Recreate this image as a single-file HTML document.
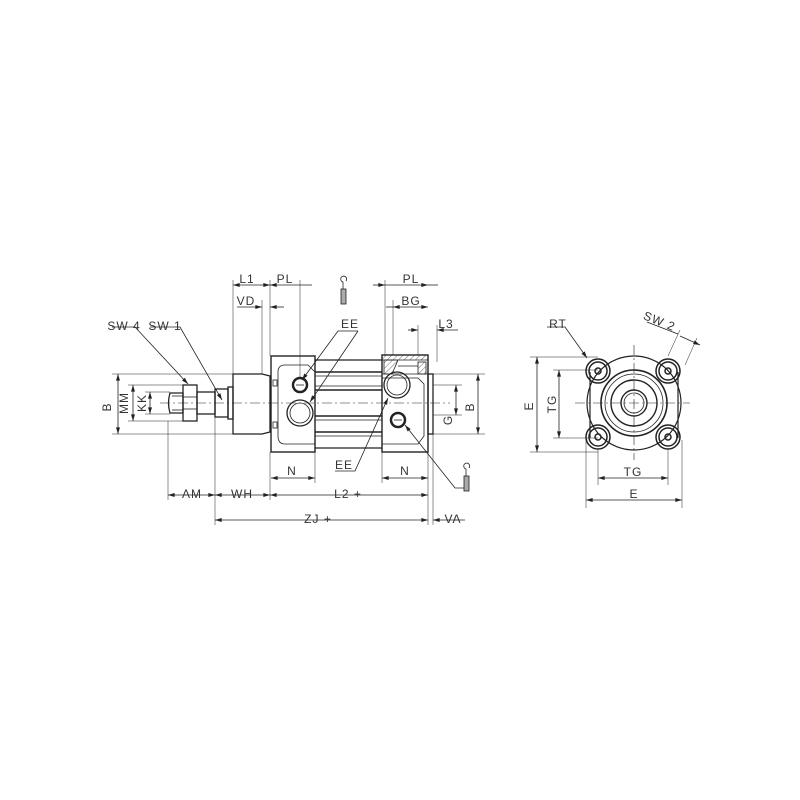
<!DOCTYPE html>
<html><head><style>html,body{margin:0;background:#fff}svg{display:block}text{font-family:"Liberation Sans",sans-serif;font-size:12px;fill:#333;letter-spacing:1px}</style></head>
<body>
<svg width="800" height="800" viewBox="0 0 800 800" xmlns="http://www.w3.org/2000/svg">
<defs><marker id="a" viewBox="0 0 10 6" refX="10" refY="3" markerWidth="9" markerHeight="5" orient="auto-start-reverse"><path d="M0,0L10,3L0,6z" fill="#222"/></marker>
<pattern id="h" width="4" height="4" patternUnits="userSpaceOnUse" patternTransform="rotate(45)"><line x1="0" y1="0" x2="0" y2="4" stroke="#444" stroke-width="0.8"/></pattern></defs>
<g stroke="#222" fill="none" stroke-width="0.8">
<line x1="160" y1="403" x2="450" y2="403" stroke-dasharray="10 3 2 3" stroke-width="0.6"/>
<line x1="575" y1="403" x2="690" y2="403" stroke-dasharray="10 3 2 3" stroke-width="0.6"/>
<line x1="634" y1="345" x2="634" y2="460" stroke-dasharray="10 3 2 3" stroke-width="0.6"/>
<path d="M170,393 L183,393 L183,413 L170,413 Q167,403 170,393z" stroke-width="1.3"/>
<line x1="172" y1="396" x2="183" y2="396"/><line x1="172" y1="410" x2="183" y2="410"/>
<rect x="183" y="385" width="14" height="36" stroke-width="1.3"/>
<line x1="183" y1="397" x2="197" y2="397"/><line x1="183" y1="409" x2="197" y2="409"/>
<rect x="197" y="392" width="18" height="22" stroke-width="1.3"/>
<rect x="215" y="389" width="13" height="28" stroke-width="1.3"/>
<rect x="228" y="387" width="5" height="32" stroke-width="1.3"/>
<path d="M233,374 L262,374 L270,376 L270,432 L262,434 L233,434z" stroke-width="1.3"/>
<rect x="271" y="356" width="44" height="96" stroke-width="1.4"/>
<path d="M278,372 Q278,365 285,365 L308,365 L315,372 L315,444 L285,444 Q278,444 278,436z"/>
<rect x="273" y="380" width="4" height="6"/><rect x="273" y="422" width="4" height="6"/>
<circle cx="300" cy="385" r="7" stroke-width="2.5"/><line x1="296" y1="385" x2="304" y2="385"/>
<circle cx="300" cy="413" r="13" stroke-width="1.3"/><circle cx="300" cy="413" r="10"/>
<line x1="315" y1="360" x2="382" y2="360" stroke-width="1.3"/><line x1="315" y1="448" x2="382" y2="448" stroke-width="1.3"/>
<line x1="315" y1="372" x2="382" y2="372" stroke-width="1.5"/><line x1="315" y1="376" x2="382" y2="376"/>
<line x1="315" y1="386" x2="382" y2="386"/><line x1="315" y1="390" x2="382" y2="390" stroke-width="1.5"/>
<line x1="315" y1="416" x2="382" y2="416" stroke-width="1.5"/><line x1="315" y1="420" x2="382" y2="420"/>
<line x1="315" y1="432" x2="382" y2="432" stroke-width="1.5"/><line x1="315" y1="436" x2="382" y2="436"/>
<rect x="382" y="355" width="46" height="97" stroke-width="1.4"/>
<path d="M382,355 L428,355 L428,360 L382,360z" fill="url(#h)"/>
<path d="M384,360 L398,360 L392,374 L384,374z" fill="url(#h)"/>
<rect x="418" y="362" width="8" height="12" fill="url(#h)"/>
<line x1="398" y1="366" x2="418" y2="366"/>
<line x1="382" y1="374" x2="428" y2="374"/>
<path d="M382,378 L418,378 L424,384 L424,436 L418,444 L382,444"/>
<circle cx="397" cy="385" r="13" stroke-width="1.3"/><circle cx="397" cy="385" r="10"/>
<circle cx="398" cy="420" r="7" stroke-width="2.5"/><line x1="394" y1="420" x2="402" y2="420"/>
<rect x="428" y="374" width="5" height="60" stroke-width="1.3"/>
<path d="M112,374 H233 M112,434 H233 M128,385 H183 M128,421 H183 M145,392 H170 M145,414 H170" stroke-width="0.5"/>
<path d="M233,280 V374 M262,300 V374 M270,280 V356 M300,280 V378 M168,421 V500 M215,417 V525 M270,452 V500 M315,452 V483 M382,452 V483 M428,452 V525 M433,434 V525 M385,280 V355 M393,300 V355 M418,325 V355 M437,325 V362 M433,374 H485 M433,434 H485 M433,385 H462 M433,415 H462" stroke-width="0.5"/>
<line x1="118" y1="374" x2="118" y2="434" marker-start="url(#a)" marker-end="url(#a)"/>
<line x1="133" y1="385" x2="133" y2="421" marker-start="url(#a)" marker-end="url(#a)"/>
<line x1="150" y1="392" x2="150" y2="414" marker-start="url(#a)" marker-end="url(#a)"/>
<line x1="233" y1="285" x2="270" y2="285" marker-start="url(#a)" marker-end="url(#a)"/>
<line x1="270" y1="285" x2="312" y2="285" marker-start="url(#a)"/>
<line x1="237" y1="307" x2="262" y2="307" marker-end="url(#a)"/><line x1="270" y1="307" x2="284" y2="307" marker-start="url(#a)"/>
<line x1="271" y1="478" x2="315" y2="478" marker-start="url(#a)" marker-end="url(#a)"/>
<line x1="382" y1="478" x2="428" y2="478" marker-start="url(#a)" marker-end="url(#a)"/>
<line x1="168" y1="495" x2="215" y2="495" marker-start="url(#a)" marker-end="url(#a)"/>
<line x1="215" y1="495" x2="270" y2="495" marker-start="url(#a)" marker-end="url(#a)"/>
<line x1="270" y1="495" x2="428" y2="495" marker-start="url(#a)" marker-end="url(#a)"/>
<line x1="215" y1="520" x2="428" y2="520" marker-start="url(#a)" marker-end="url(#a)"/>
<line x1="433" y1="520" x2="465" y2="520" marker-start="url(#a)"/>
<line x1="373" y1="285" x2="385" y2="285" marker-end="url(#a)"/><line x1="385" y1="285" x2="428" y2="285" marker-end="url(#a)"/><line x1="428" y1="285" x2="438" y2="285"/>
<line x1="393" y1="307" x2="428" y2="307" marker-start="url(#a)" marker-end="url(#a)"/><line x1="386" y1="307" x2="393" y2="307"/>
<line x1="408" y1="330" x2="418" y2="330" marker-end="url(#a)"/><line x1="437" y1="330" x2="458" y2="330" marker-start="url(#a)"/>
<line x1="456" y1="385" x2="456" y2="415" marker-start="url(#a)" marker-end="url(#a)"/>
<line x1="478" y1="374" x2="478" y2="434" marker-start="url(#a)" marker-end="url(#a)"/>
<path d="M112,327 H135 L188,384" marker-end="url(#a)"/>
<path d="M150,327 H180 L222,400" marker-end="url(#a)"/>
<path d="M358,331 H338 L302,380" marker-end="url(#a)"/>
<path d="M358,331 L310,402" marker-end="url(#a)"/>
<path d="M335,471 H355 L388,398" marker-end="url(#a)"/>
<path d="M466,488 H455 L405,425" marker-end="url(#a)"/>
<rect x="341" y="289" width="5" height="15" fill="#aaa"/><path d="M343,289 V282 a3,3 0 1 1 3,-1"/>
<rect x="464" y="476" width="5" height="15" fill="#aaa"/><path d="M466,476 V469 a3,3 0 1 1 3,-1"/>
<circle cx="634" cy="403" r="47" stroke-width="1.2"/>
<path d="M590,372 V438 M678,372 V438" stroke-width="1.2"/>
<circle cx="634" cy="403" r="33" stroke-width="1.6"/>
<circle cx="634" cy="403" r="29"/>
<circle cx="634" cy="403" r="23" stroke-width="1.4"/>
<circle cx="634" cy="403" r="13" stroke-width="1.4"/><circle cx="634" cy="403" r="10"/>
<g stroke-width="1.5">
<circle cx="598" cy="371" r="12"/><circle cx="598" cy="371" r="9"/><circle cx="598" cy="371" r="3"/>
<circle cx="668" cy="371" r="12"/><circle cx="668" cy="371" r="9"/><circle cx="668" cy="371" r="3"/>
<circle cx="598" cy="437" r="12"/><circle cx="598" cy="437" r="9"/><circle cx="598" cy="437" r="3"/>
<circle cx="668" cy="437" r="12"/><circle cx="668" cy="437" r="9"/><circle cx="668" cy="437" r="3"/>
</g>
<path d="M530,357 H598 M530,452 H598 M553,370 H598 M553,438 H598 M586,440 V508 M682,440 V508 M598,450 V485 M668,450 V485" stroke-width="0.5"/>
<line x1="537" y1="357" x2="537" y2="452" marker-start="url(#a)" marker-end="url(#a)"/>
<line x1="559" y1="370" x2="559" y2="438" marker-start="url(#a)" marker-end="url(#a)"/>
<line x1="598" y1="478" x2="668" y2="478" marker-start="url(#a)" marker-end="url(#a)"/>
<line x1="586" y1="500" x2="682" y2="500" marker-start="url(#a)" marker-end="url(#a)"/>
<path d="M547,327 H565 L587,358" marker-end="url(#a)"/>
<path d="M668,356 L680,330 M685,365 L697,338" stroke-width="0.5"/>
<path d="M647,322 L678,334 M680,336 L700,345" marker-end="url(#a)"/>
</g>
<g>
<text x="247" y="283" text-anchor="middle">L1</text><text x="285" y="283" text-anchor="middle">PL</text>
<text x="246" y="305" text-anchor="middle">VD</text>
<text x="124" y="330" text-anchor="middle">SW 4</text><text x="165" y="330" text-anchor="middle">SW 1</text>
<text x="350" y="328" text-anchor="middle">EE</text><text x="344" y="469" text-anchor="middle">EE</text>
<text x="292" y="475" text-anchor="middle">N</text><text x="405" y="475" text-anchor="middle">N</text>
<text x="192" y="498" text-anchor="middle">AM</text><text x="242" y="498" text-anchor="middle">WH</text>
<text x="348" y="498" text-anchor="middle">L2 +</text><text x="318" y="523" text-anchor="middle">ZJ +</text>
<text x="453" y="523" text-anchor="middle">VA</text>
<text x="411" y="283" text-anchor="middle">PL</text><text x="411" y="305" text-anchor="middle">BG</text>
<text x="446" y="328" text-anchor="middle">L3</text>
<text x="558" y="328" text-anchor="middle">RT</text>
<text x="633" y="476" text-anchor="middle">TG</text><text x="634" y="498" text-anchor="middle">E</text>
<text transform="translate(111,407) rotate(-90)" text-anchor="middle">B</text>
<text transform="translate(128,403) rotate(-90)" text-anchor="middle">MM</text>
<text transform="translate(146,403) rotate(-90)" text-anchor="middle">KK</text>
<text transform="translate(452,420) rotate(-90)" text-anchor="middle">G</text>
<text transform="translate(474,407) rotate(-90)" text-anchor="middle">B</text>
<text transform="translate(533,406) rotate(-90)" text-anchor="middle">E</text>
<text transform="translate(556,404) rotate(-90)" text-anchor="middle">TG</text>
<text transform="translate(658,325) rotate(22)" text-anchor="middle">SW 2</text>
</g>
</svg>
</body></html>
